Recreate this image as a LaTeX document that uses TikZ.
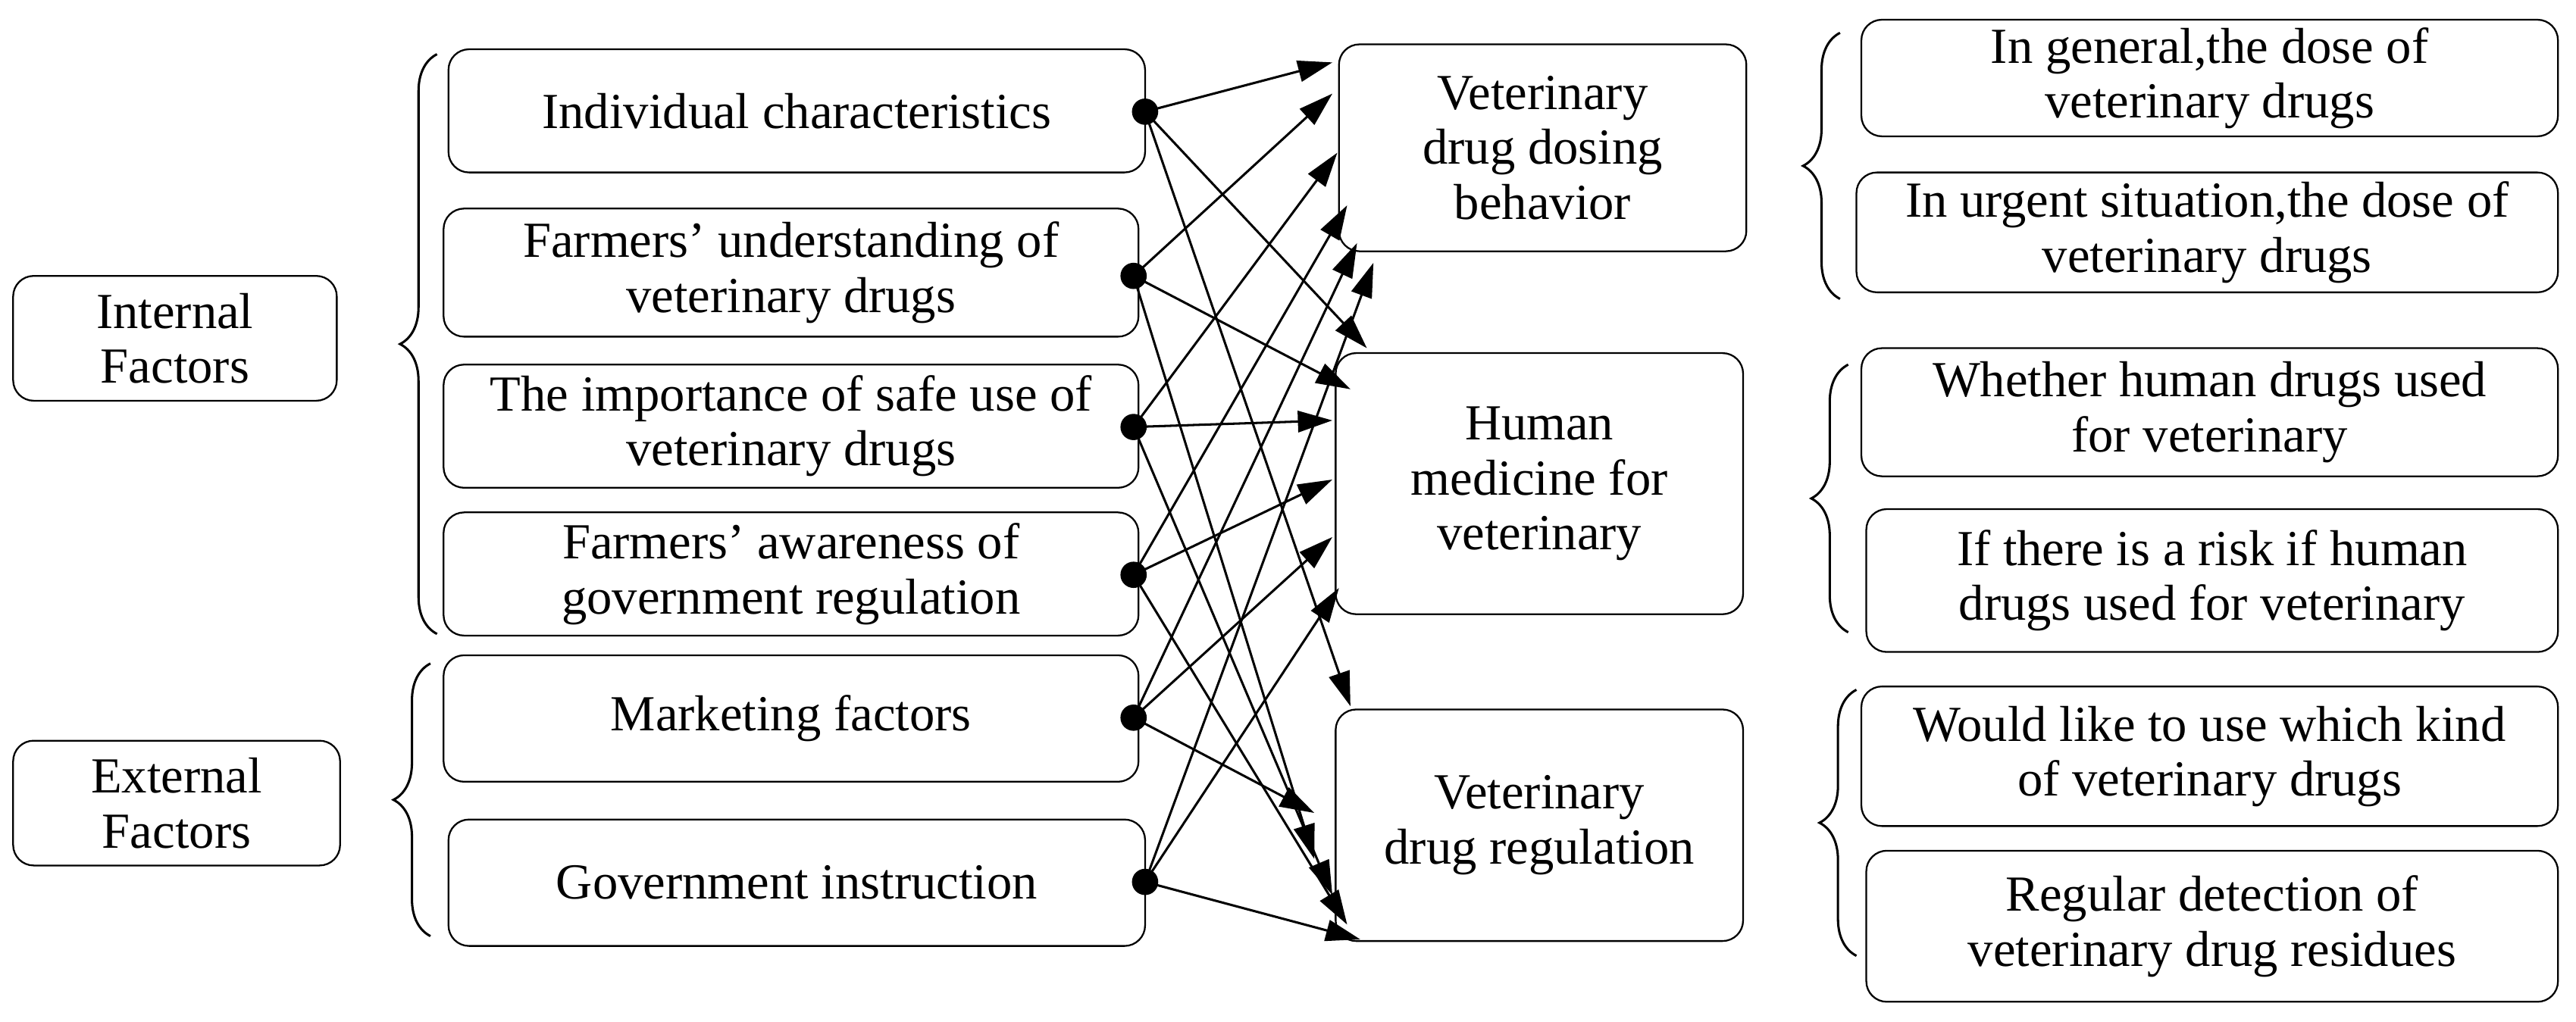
\documentclass[tikz,border=0pt]{standalone}
\usepackage{fontspec}
\setmainfont{Liberation Serif}
\usetikzlibrary{arrows.meta,decorations.pathreplacing}
\begin{document}
\begin{tikzpicture}[x=0.02cm,y=-0.02cm,
  box/.style={draw,line width=0.6pt,rounded corners=0.25cm,align=center,inner sep=0pt,font=\fontsize{17.5}{19}\selectfont},
  dot/.style={circle,fill=black,inner sep=0pt,minimum size=0.32cm},
  arr/.style={-{Triangle[length=0.42cm,width=0.26cm]},line width=0.8pt},
  br/.style={decorate,decoration={brace,amplitude=0.45cm,aspect=0.5},line width=0.8pt}]
\useasboundingbox (0,0) rectangle (1568,622);
\newcommand\bx[6]{\node[box,minimum width={(#4-#2)*0.02cm},minimum height={(#5-#3)*0.02cm}] (#1) at ({(#2+#4)/2},{(#3+#5)/2}) {#6};}
\bx{int}{8}{168}{205}{244}{Internal\\Factors}
\bx{ext}{8}{451}{207}{527}{External\\Factors}
\bx{ic}{273}{30}{697}{105}{Individual characteristics}
\bx{fu}{270}{127}{693}{205}{Farmers’ understanding of\\veterinary drugs}
\bx{ti}{270}{222}{693}{297}{The importance of safe use of\\veterinary drugs}
\bx{fa}{270}{312}{693}{387}{Farmers’ awareness of\\government regulation}
\bx{mf}{270}{399}{693}{476}{Marketing factors}
\bx{gi}{273}{499}{697}{576}{Government instruction}
\bx{vd}{815}{27}{1063}{153}{Veterinary\\drug dosing\\behavior}
\bx{hm}{813}{215}{1061}{374}{Human\\medicine for\\veterinary}
\bx{vr}{813}{432}{1061}{573}{Veterinary\\drug regulation}
\bx{r1}{1133}{12}{1557}{83}{In general,the dose of\\veterinary drugs}
\bx{r2}{1130}{105}{1557}{178}{In urgent situation,the dose of\\veterinary drugs}
\bx{r3}{1133}{212}{1557}{290}{Whether human drugs used\\for veterinary}
\bx{r4}{1136}{310}{1557}{397}{If there is a risk if human\\drugs used for veterinary}
\bx{r5}{1133}{418}{1557}{503}{Would like to use which kind\\of veterinary drugs}
\bx{r6}{1136}{518}{1557}{610}{Regular detection of\\veterinary drug residues}
% braces
\draw[br] (266,386) -- (266,33);
\draw[br] (262,570) -- (262,404);
\draw[br] (1120,182) -- (1120,20);
\draw[br] (1125,385) -- (1125,222);
\draw[br] (1130,582) -- (1130,420);
% dots
\node[dot] (d1) at (697,68) {};
\node[dot] (d2) at (690,168) {};
\node[dot] (d3) at (690,260) {};
\node[dot] (d4) at (690,350) {};
\node[dot] (d5) at (690,437) {};
\node[dot] (d6) at (697,537) {};
% arrow ends
\coordinate (e11) at (811,38);  \coordinate (e12) at (832,212); \coordinate (e13) at (822,430);
\coordinate (e21) at (811,57);  \coordinate (e22) at (822,237); \coordinate (e23) at (800,523);
\coordinate (e31) at (814,93);  \coordinate (e32) at (811,256); \coordinate (e33) at (811,545);
\coordinate (e41) at (820,125); \coordinate (e42) at (811,292); \coordinate (e43) at (820,563);
\coordinate (e51) at (826,148); \coordinate (e52) at (811,327); \coordinate (e53) at (800,495);
\coordinate (e61) at (836,160); \coordinate (e62) at (815,358); \coordinate (e63) at (828,572);
\foreach \i in {1,...,6}{\foreach \j in {1,2,3}{\draw[arr] (d\i.center) -- (e\i\j);}}
\end{tikzpicture}
\end{document}
